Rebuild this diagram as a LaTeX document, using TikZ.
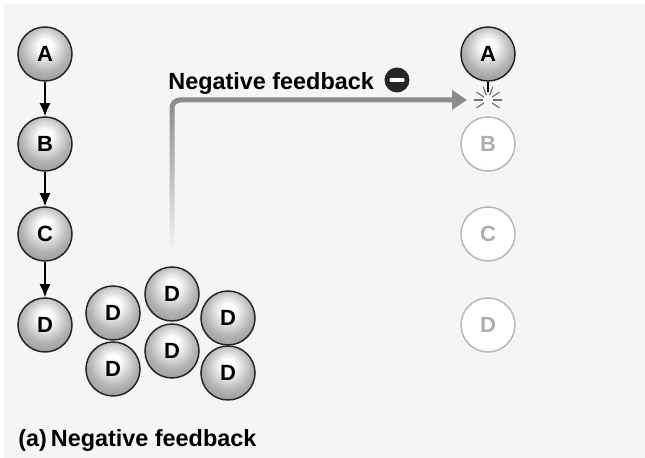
\documentclass[tikz,border=0pt]{standalone}
\usepackage{fontspec}
\setmainfont{Liberation Sans}
\usetikzlibrary{arrows.meta,fadings}

\definecolor{bgcol}{HTML}{F5F5F5}
\definecolor{fbgray}{HTML}{8A8A8A}
\pgfdeclareradialshading{sphere}{\pgfpoint{0bp}{8bp}}{color(0bp)=(white); color(6bp)=(white); color(22bp)=(black!30); color(40bp)=(black!48); color(50bp)=(black!56); color(70bp)=(black!56)}
\pgfdeclareradialshading{palesphere}{\pgfpoint{0bp}{8bp}}{color(0bp)=(white); color(26bp)=(white); color(50bp)=(black!15); color(70bp)=(black!15)}

\begin{document}
\begin{tikzpicture}[x=0.5pt,y=-0.5pt]
\tikzset{vertex/.style = {shape=circle,draw=black!85,line width=0.75pt,minimum size=27pt,inner sep=0pt,
  shading=sphere,font=\fontsize{11}{11}\selectfont\bfseries}}
\tikzset{faded/.style = {vertex,draw=black!28,shading=palesphere,text=black!32}}
\tikzset{edge/.style = {-{Latex[length=6.5pt,width=5.5pt]},line width=0.6pt}}
\tikzset{feedback/.style = {-{Triangle[length=7.5pt,width=9.5pt]},line width=2.5pt,draw=fbgray,rounded corners=4pt}}
\tikzset{caption/.style = {anchor=base west,inner sep=0pt,font=\fontsize{11.7}{12}\selectfont\bfseries}}

\useasboundingbox (0,0) rectangle (645,458);
\fill[white] (0,0) rectangle (645,458);
\fill[bgcol] (4,4) rectangle (645,458);

% pathway
\node[vertex] (a) at (45,54)  {A};
\node[vertex] (b) at (45,144) {B};
\node[vertex] (c) at (45,234) {C};
\node[vertex] (d) at (45,325) {D};

\draw[edge] (a) -- (b);
\draw[edge] (b) -- (c);
\draw[edge] (c) -- (d);

% pile of product
\node[vertex] (d1) at (113,313) {D};
\node[vertex] (d2) at (172,294) {D};
\node[vertex] (d3) at (228,318) {D};
\node[vertex] (d4) at (113,369) {D};
\node[vertex] (d5) at (172,351) {D};
\node[vertex] (d6) at (228,373) {D};

% inhibited pathway
\node[vertex] (ra) at (488,54)  {A};
\node[faded]  (rb) at (488,144) {B};
\node[faded]  (rc) at (488,234) {C};
\node[faded]  (rd) at (488,325) {D};

\coordinate (hit) at (488,100);
\coordinate (fbstart) at (172,250);
\draw[line width=0.6pt] (ra) -- ([yshift=4pt]hit);
\foreach \ang in {0,35,145,180,215,250,290,325}
  \draw[black!55,line width=0.6pt] ([shift={(\ang:5)}]hit) -- ([shift={(\ang:14)}]hit);

\draw[feedback,path fading=south] (fbstart) |- ([xshift=-10.5pt]hit);

\node[caption] (fblabel) at (168,90) {Negative feedback};
\node[circle,fill=black!85,minimum size=12.5pt,inner sep=0pt] (minus) at (397,80) {};
\draw[white,line width=1.6pt,line cap=round] ([xshift=-3pt]minus.center) -- ([xshift=3pt]minus.center);

\node[caption] (title) at (18,447) {(a)\,Negative feedback};
\end{tikzpicture}
\end{document}
